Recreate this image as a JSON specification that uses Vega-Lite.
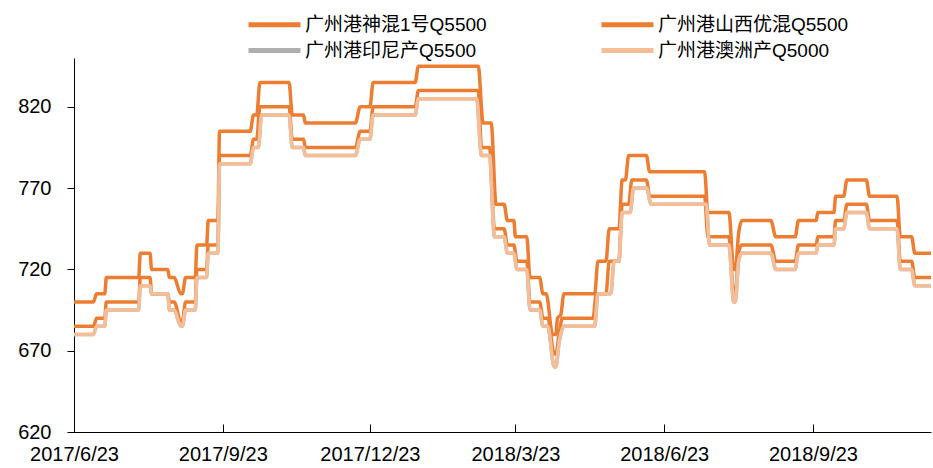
{
  "$schema": "https://vega.github.io/schema/vega-lite/v6.json",
  "width": 857,
  "height": 374,
  "autosize": {"type": "none"},
  "padding": {"left": 74, "top": 58, "right": 2, "bottom": 36},
  "background": "white",
  "config": {"view": {"stroke": null}, "axis": {"grid": false}},
  "data": {"values": [
    {"d":"2017/6/23","s":"广州港神混1号Q5500","v":685},{"d":"2017/7/5","s":"广州港神混1号Q5500","v":685},{"d":"2017/7/7","s":"广州港神混1号Q5500","v":690},{"d":"2017/7/12","s":"广州港神混1号Q5500","v":690},{"d":"2017/7/13","s":"广州港神混1号Q5500","v":700},{"d":"2017/8/2","s":"广州港神混1号Q5500","v":700},{"d":"2017/8/3","s":"广州港神混1号Q5500","v":715},{"d":"2017/8/9","s":"广州港神混1号Q5500","v":715},{"d":"2017/8/10","s":"广州港神混1号Q5500","v":705},{"d":"2017/8/20","s":"广州港神混1号Q5500","v":705},{"d":"2017/8/21","s":"广州港神混1号Q5500","v":700},{"d":"2017/8/24","s":"广州港神混1号Q5500","v":700},{"d":"2017/8/28","s":"广州港神混1号Q5500","v":688},{"d":"2017/8/29","s":"广州港神混1号Q5500","v":688},{"d":"2017/8/31","s":"广州港神混1号Q5500","v":700},{"d":"2017/9/6","s":"广州港神混1号Q5500","v":700},{"d":"2017/9/7","s":"广州港神混1号Q5500","v":720},{"d":"2017/9/13","s":"广州港神混1号Q5500","v":720},{"d":"2017/9/14","s":"广州港神混1号Q5500","v":735},{"d":"2017/9/20","s":"广州港神混1号Q5500","v":735},{"d":"2017/9/21","s":"广州港神混1号Q5500","v":790},{"d":"2017/10/10","s":"广州港神混1号Q5500","v":790},{"d":"2017/10/12","s":"广州港神混1号Q5500","v":800},{"d":"2017/10/14","s":"广州港神混1号Q5500","v":800},{"d":"2017/10/16","s":"广州港神混1号Q5500","v":820},{"d":"2017/11/3","s":"广州港神混1号Q5500","v":820},{"d":"2017/11/5","s":"广州港神混1号Q5500","v":800},{"d":"2017/11/12","s":"广州港神混1号Q5500","v":800},{"d":"2017/11/13","s":"广州港神混1号Q5500","v":795},{"d":"2017/12/14","s":"广州港神混1号Q5500","v":795},{"d":"2017/12/17","s":"广州港神混1号Q5500","v":805},{"d":"2017/12/23","s":"广州港神混1号Q5500","v":805},{"d":"2017/12/25","s":"广州港神混1号Q5500","v":820},{"d":"2018/1/20","s":"广州港神混1号Q5500","v":820},{"d":"2018/1/22","s":"广州港神混1号Q5500","v":830},{"d":"2018/2/28","s":"广州港神混1号Q5500","v":830},{"d":"2018/3/2","s":"广州港神混1号Q5500","v":795},{"d":"2018/3/7","s":"广州港神混1号Q5500","v":795},{"d":"2018/3/10","s":"广州港神混1号Q5500","v":745},{"d":"2018/3/16","s":"广州港神混1号Q5500","v":745},{"d":"2018/3/18","s":"广州港神混1号Q5500","v":735},{"d":"2018/3/22","s":"广州港神混1号Q5500","v":735},{"d":"2018/3/24","s":"广州港神混1号Q5500","v":725},{"d":"2018/3/30","s":"广州港神混1号Q5500","v":725},{"d":"2018/4/1","s":"广州港神混1号Q5500","v":700},{"d":"2018/4/7","s":"广州港神混1号Q5500","v":700},{"d":"2018/4/9","s":"广州港神混1号Q5500","v":690},{"d":"2018/4/12","s":"广州港神混1号Q5500","v":690},{"d":"2018/4/16","s":"广州港神混1号Q5500","v":668},{"d":"2018/4/17","s":"广州港神混1号Q5500","v":668},{"d":"2018/4/19","s":"广州港神混1号Q5500","v":680},{"d":"2018/4/21","s":"广州港神混1号Q5500","v":690},{"d":"2018/5/10","s":"广州港神混1号Q5500","v":690},{"d":"2018/5/12","s":"广州港神混1号Q5500","v":705},{"d":"2018/5/18","s":"广州港神混1号Q5500","v":705},{"d":"2018/5/20","s":"广州港神混1号Q5500","v":725},{"d":"2018/5/26","s":"广州港神混1号Q5500","v":725},{"d":"2018/5/28","s":"广州港神混1号Q5500","v":760},{"d":"2018/6/1","s":"广州港神混1号Q5500","v":760},{"d":"2018/6/3","s":"广州港神混1号Q5500","v":775},{"d":"2018/6/12","s":"广州港神混1号Q5500","v":775},{"d":"2018/6/14","s":"广州港神混1号Q5500","v":765},{"d":"2018/7/18","s":"广州港神混1号Q5500","v":765},{"d":"2018/7/20","s":"广州港神混1号Q5500","v":740},{"d":"2018/8/2","s":"广州港神混1号Q5500","v":740},{"d":"2018/8/5","s":"广州港神混1号Q5500","v":705},{"d":"2018/8/6","s":"广州港神混1号Q5500","v":705},{"d":"2018/8/8","s":"广州港神混1号Q5500","v":730},{"d":"2018/8/10","s":"广州港神混1号Q5500","v":735},{"d":"2018/8/28","s":"广州港神混1号Q5500","v":735},{"d":"2018/8/31","s":"广州港神混1号Q5500","v":725},{"d":"2018/9/12","s":"广州港神混1号Q5500","v":725},{"d":"2018/9/14","s":"广州港神混1号Q5500","v":735},{"d":"2018/9/25","s":"广州港神混1号Q5500","v":735},{"d":"2018/9/26","s":"广州港神混1号Q5500","v":740},{"d":"2018/10/6","s":"广州港神混1号Q5500","v":740},{"d":"2018/10/7","s":"广州港神混1号Q5500","v":750},{"d":"2018/10/12","s":"广州港神混1号Q5500","v":750},{"d":"2018/10/14","s":"广州港神混1号Q5500","v":760},{"d":"2018/10/26","s":"广州港神混1号Q5500","v":760},{"d":"2018/10/28","s":"广州港神混1号Q5500","v":750},{"d":"2018/11/14","s":"广州港神混1号Q5500","v":750},{"d":"2018/11/16","s":"广州港神混1号Q5500","v":725},{"d":"2018/11/23","s":"广州港神混1号Q5500","v":725},{"d":"2018/11/25","s":"广州港神混1号Q5500","v":715},{"d":"2018/12/5","s":"广州港神混1号Q5500","v":715},

    {"d":"2017/6/23","s":"广州港山西优混Q5500","v":700},{"d":"2017/7/5","s":"广州港山西优混Q5500","v":700},{"d":"2017/7/7","s":"广州港山西优混Q5500","v":705},{"d":"2017/7/12","s":"广州港山西优混Q5500","v":705},{"d":"2017/7/13","s":"广州港山西优混Q5500","v":715},{"d":"2017/8/2","s":"广州港山西优混Q5500","v":715},{"d":"2017/8/3","s":"广州港山西优混Q5500","v":730},{"d":"2017/8/9","s":"广州港山西优混Q5500","v":730},{"d":"2017/8/10","s":"广州港山西优混Q5500","v":720},{"d":"2017/8/20","s":"广州港山西优混Q5500","v":720},{"d":"2017/8/21","s":"广州港山西优混Q5500","v":715},{"d":"2017/8/24","s":"广州港山西优混Q5500","v":715},{"d":"2017/8/28","s":"广州港山西优混Q5500","v":705},{"d":"2017/8/29","s":"广州港山西优混Q5500","v":705},{"d":"2017/8/31","s":"广州港山西优混Q5500","v":715},{"d":"2017/9/6","s":"广州港山西优混Q5500","v":715},{"d":"2017/9/7","s":"广州港山西优混Q5500","v":735},{"d":"2017/9/13","s":"广州港山西优混Q5500","v":735},{"d":"2017/9/14","s":"广州港山西优混Q5500","v":750},{"d":"2017/9/20","s":"广州港山西优混Q5500","v":750},{"d":"2017/9/21","s":"广州港山西优混Q5500","v":805},{"d":"2017/10/10","s":"广州港山西优混Q5500","v":805},{"d":"2017/10/12","s":"广州港山西优混Q5500","v":815},{"d":"2017/10/14","s":"广州港山西优混Q5500","v":815},{"d":"2017/10/16","s":"广州港山西优混Q5500","v":835},{"d":"2017/11/3","s":"广州港山西优混Q5500","v":835},{"d":"2017/11/5","s":"广州港山西优混Q5500","v":815},{"d":"2017/11/12","s":"广州港山西优混Q5500","v":815},{"d":"2017/11/13","s":"广州港山西优混Q5500","v":810},{"d":"2017/12/14","s":"广州港山西优混Q5500","v":810},{"d":"2017/12/17","s":"广州港山西优混Q5500","v":820},{"d":"2017/12/23","s":"广州港山西优混Q5500","v":820},{"d":"2017/12/25","s":"广州港山西优混Q5500","v":835},{"d":"2018/1/20","s":"广州港山西优混Q5500","v":835},{"d":"2018/1/22","s":"广州港山西优混Q5500","v":845},{"d":"2018/2/28","s":"广州港山西优混Q5500","v":845},{"d":"2018/3/3","s":"广州港山西优混Q5500","v":810},{"d":"2018/3/8","s":"广州港山西优混Q5500","v":810},{"d":"2018/3/11","s":"广州港山西优混Q5500","v":760},{"d":"2018/3/16","s":"广州港山西优混Q5500","v":760},{"d":"2018/3/18","s":"广州港山西优混Q5500","v":750},{"d":"2018/3/22","s":"广州港山西优混Q5500","v":750},{"d":"2018/3/23","s":"广州港山西优混Q5500","v":740},{"d":"2018/3/30","s":"广州港山西优混Q5500","v":740},{"d":"2018/4/1","s":"广州港山西优混Q5500","v":715},{"d":"2018/4/7","s":"广州港山西优混Q5500","v":715},{"d":"2018/4/9","s":"广州港山西优混Q5500","v":705},{"d":"2018/4/11","s":"广州港山西优混Q5500","v":705},{"d":"2018/4/15","s":"广州港山西优混Q5500","v":680},{"d":"2018/4/17","s":"广州港山西优混Q5500","v":680},{"d":"2018/4/18","s":"广州港山西优混Q5500","v":690},{"d":"2018/4/20","s":"广州港山西优混Q5500","v":692},{"d":"2018/4/22","s":"广州港山西优混Q5500","v":705},{"d":"2018/5/11","s":"广州港山西优混Q5500","v":705},{"d":"2018/5/13","s":"广州港山西优混Q5500","v":725},{"d":"2018/5/18","s":"广州港山西优混Q5500","v":725},{"d":"2018/5/20","s":"广州港山西优混Q5500","v":745},{"d":"2018/5/26","s":"广州港山西优混Q5500","v":745},{"d":"2018/5/28","s":"广州港山西优混Q5500","v":775},{"d":"2018/5/30","s":"广州港山西优混Q5500","v":775},{"d":"2018/6/1","s":"广州港山西优混Q5500","v":790},{"d":"2018/6/12","s":"广州港山西优混Q5500","v":790},{"d":"2018/6/14","s":"广州港山西优混Q5500","v":780},{"d":"2018/7/18","s":"广州港山西优混Q5500","v":780},{"d":"2018/7/20","s":"广州港山西优混Q5500","v":755},{"d":"2018/8/2","s":"广州港山西优混Q5500","v":755},{"d":"2018/8/5","s":"广州港山西优混Q5500","v":720},{"d":"2018/8/6","s":"广州港山西优混Q5500","v":720},{"d":"2018/8/8","s":"广州港山西优混Q5500","v":742},{"d":"2018/8/10","s":"广州港山西优混Q5500","v":750},{"d":"2018/8/28","s":"广州港山西优混Q5500","v":750},{"d":"2018/8/31","s":"广州港山西优混Q5500","v":740},{"d":"2018/9/12","s":"广州港山西优混Q5500","v":740},{"d":"2018/9/14","s":"广州港山西优混Q5500","v":750},{"d":"2018/9/25","s":"广州港山西优混Q5500","v":750},{"d":"2018/9/26","s":"广州港山西优混Q5500","v":755},{"d":"2018/10/6","s":"广州港山西优混Q5500","v":755},{"d":"2018/10/7","s":"广州港山西优混Q5500","v":765},{"d":"2018/10/12","s":"广州港山西优混Q5500","v":765},{"d":"2018/10/14","s":"广州港山西优混Q5500","v":775},{"d":"2018/10/26","s":"广州港山西优混Q5500","v":775},{"d":"2018/10/28","s":"广州港山西优混Q5500","v":765},{"d":"2018/11/14","s":"广州港山西优混Q5500","v":765},{"d":"2018/11/16","s":"广州港山西优混Q5500","v":740},{"d":"2018/11/23","s":"广州港山西优混Q5500","v":740},{"d":"2018/11/25","s":"广州港山西优混Q5500","v":730},{"d":"2018/12/5","s":"广州港山西优混Q5500","v":730},

    {"d":"2017/6/23","s":"广州港印尼产Q5500","v":680},{"d":"2017/7/5","s":"广州港印尼产Q5500","v":680},{"d":"2017/7/7","s":"广州港印尼产Q5500","v":685},{"d":"2017/7/12","s":"广州港印尼产Q5500","v":685},{"d":"2017/7/13","s":"广州港印尼产Q5500","v":695},{"d":"2017/8/2","s":"广州港印尼产Q5500","v":695},{"d":"2017/8/3","s":"广州港印尼产Q5500","v":710},{"d":"2017/8/9","s":"广州港印尼产Q5500","v":710},{"d":"2017/8/10","s":"广州港印尼产Q5500","v":705},{"d":"2017/8/20","s":"广州港印尼产Q5500","v":705},{"d":"2017/8/21","s":"广州港印尼产Q5500","v":695},{"d":"2017/8/24","s":"广州港印尼产Q5500","v":695},{"d":"2017/8/28","s":"广州港印尼产Q5500","v":685},{"d":"2017/8/29","s":"广州港印尼产Q5500","v":685},{"d":"2017/8/31","s":"广州港印尼产Q5500","v":695},{"d":"2017/9/6","s":"广州港印尼产Q5500","v":695},{"d":"2017/9/7","s":"广州港印尼产Q5500","v":715},{"d":"2017/9/13","s":"广州港印尼产Q5500","v":715},{"d":"2017/9/14","s":"广州港印尼产Q5500","v":730},{"d":"2017/9/20","s":"广州港印尼产Q5500","v":730},{"d":"2017/9/21","s":"广州港印尼产Q5500","v":785},{"d":"2017/10/10","s":"广州港印尼产Q5500","v":785},{"d":"2017/10/12","s":"广州港印尼产Q5500","v":795},{"d":"2017/10/15","s":"广州港印尼产Q5500","v":795},{"d":"2017/10/17","s":"广州港印尼产Q5500","v":815},{"d":"2017/11/3","s":"广州港印尼产Q5500","v":815},{"d":"2017/11/5","s":"广州港印尼产Q5500","v":795},{"d":"2017/11/12","s":"广州港印尼产Q5500","v":795},{"d":"2017/11/13","s":"广州港印尼产Q5500","v":790},{"d":"2017/12/14","s":"广州港印尼产Q5500","v":790},{"d":"2017/12/17","s":"广州港印尼产Q5500","v":800},{"d":"2017/12/23","s":"广州港印尼产Q5500","v":800},{"d":"2017/12/25","s":"广州港印尼产Q5500","v":815},{"d":"2018/1/20","s":"广州港印尼产Q5500","v":815},{"d":"2018/1/22","s":"广州港印尼产Q5500","v":825},{"d":"2018/2/27","s":"广州港印尼产Q5500","v":825},{"d":"2018/3/2","s":"广州港印尼产Q5500","v":790},{"d":"2018/3/7","s":"广州港印尼产Q5500","v":790},{"d":"2018/3/10","s":"广州港印尼产Q5500","v":740},{"d":"2018/3/16","s":"广州港印尼产Q5500","v":740},{"d":"2018/3/18","s":"广州港印尼产Q5500","v":730},{"d":"2018/3/22","s":"广州港印尼产Q5500","v":730},{"d":"2018/3/24","s":"广州港印尼产Q5500","v":720},{"d":"2018/3/30","s":"广州港印尼产Q5500","v":720},{"d":"2018/4/1","s":"广州港印尼产Q5500","v":695},{"d":"2018/4/7","s":"广州港印尼产Q5500","v":695},{"d":"2018/4/9","s":"广州港印尼产Q5500","v":685},{"d":"2018/4/12","s":"广州港印尼产Q5500","v":685},{"d":"2018/4/16","s":"广州港印尼产Q5500","v":660},{"d":"2018/4/17","s":"广州港印尼产Q5500","v":660},{"d":"2018/4/19","s":"广州港印尼产Q5500","v":675},{"d":"2018/4/22","s":"广州港印尼产Q5500","v":685},{"d":"2018/5/11","s":"广州港印尼产Q5500","v":685},{"d":"2018/5/13","s":"广州港印尼产Q5500","v":705},{"d":"2018/5/21","s":"广州港印尼产Q5500","v":705},{"d":"2018/5/23","s":"广州港印尼产Q5500","v":725},{"d":"2018/5/26","s":"广州港印尼产Q5500","v":725},{"d":"2018/5/28","s":"广州港印尼产Q5500","v":755},{"d":"2018/6/2","s":"广州港印尼产Q5500","v":755},{"d":"2018/6/4","s":"广州港印尼产Q5500","v":770},{"d":"2018/6/12","s":"广州港印尼产Q5500","v":770},{"d":"2018/6/15","s":"广州港印尼产Q5500","v":760},{"d":"2018/7/19","s":"广州港印尼产Q5500","v":760},{"d":"2018/7/21","s":"广州港印尼产Q5500","v":735},{"d":"2018/8/2","s":"广州港印尼产Q5500","v":735},{"d":"2018/8/5","s":"广州港印尼产Q5500","v":700},{"d":"2018/8/6","s":"广州港印尼产Q5500","v":700},{"d":"2018/8/8","s":"广州港印尼产Q5500","v":725},{"d":"2018/8/10","s":"广州港印尼产Q5500","v":730},{"d":"2018/8/28","s":"广州港印尼产Q5500","v":730},{"d":"2018/8/31","s":"广州港印尼产Q5500","v":720},{"d":"2018/9/12","s":"广州港印尼产Q5500","v":720},{"d":"2018/9/14","s":"广州港印尼产Q5500","v":730},{"d":"2018/9/25","s":"广州港印尼产Q5500","v":730},{"d":"2018/9/26","s":"广州港印尼产Q5500","v":735},{"d":"2018/10/6","s":"广州港印尼产Q5500","v":735},{"d":"2018/10/7","s":"广州港印尼产Q5500","v":745},{"d":"2018/10/12","s":"广州港印尼产Q5500","v":745},{"d":"2018/10/14","s":"广州港印尼产Q5500","v":755},{"d":"2018/10/26","s":"广州港印尼产Q5500","v":755},{"d":"2018/10/28","s":"广州港印尼产Q5500","v":745},{"d":"2018/11/14","s":"广州港印尼产Q5500","v":745},{"d":"2018/11/16","s":"广州港印尼产Q5500","v":720},{"d":"2018/11/23","s":"广州港印尼产Q5500","v":720},{"d":"2018/11/25","s":"广州港印尼产Q5500","v":710},{"d":"2018/12/5","s":"广州港印尼产Q5500","v":710},

    {"d":"2017/6/23","s":"广州港澳洲产Q5000","v":680},{"d":"2017/7/5","s":"广州港澳洲产Q5000","v":680},{"d":"2017/7/7","s":"广州港澳洲产Q5000","v":685},{"d":"2017/7/12","s":"广州港澳洲产Q5000","v":685},{"d":"2017/7/13","s":"广州港澳洲产Q5000","v":695},{"d":"2017/8/2","s":"广州港澳洲产Q5000","v":695},{"d":"2017/8/3","s":"广州港澳洲产Q5000","v":710},{"d":"2017/8/9","s":"广州港澳洲产Q5000","v":710},{"d":"2017/8/10","s":"广州港澳洲产Q5000","v":705},{"d":"2017/8/20","s":"广州港澳洲产Q5000","v":705},{"d":"2017/8/21","s":"广州港澳洲产Q5000","v":695},{"d":"2017/8/24","s":"广州港澳洲产Q5000","v":695},{"d":"2017/8/28","s":"广州港澳洲产Q5000","v":685},{"d":"2017/8/29","s":"广州港澳洲产Q5000","v":685},{"d":"2017/8/31","s":"广州港澳洲产Q5000","v":695},{"d":"2017/9/6","s":"广州港澳洲产Q5000","v":695},{"d":"2017/9/7","s":"广州港澳洲产Q5000","v":715},{"d":"2017/9/13","s":"广州港澳洲产Q5000","v":715},{"d":"2017/9/14","s":"广州港澳洲产Q5000","v":730},{"d":"2017/9/20","s":"广州港澳洲产Q5000","v":730},{"d":"2017/9/21","s":"广州港澳洲产Q5000","v":785},{"d":"2017/10/10","s":"广州港澳洲产Q5000","v":785},{"d":"2017/10/12","s":"广州港澳洲产Q5000","v":795},{"d":"2017/10/15","s":"广州港澳洲产Q5000","v":795},{"d":"2017/10/17","s":"广州港澳洲产Q5000","v":815},{"d":"2017/11/3","s":"广州港澳洲产Q5000","v":815},{"d":"2017/11/5","s":"广州港澳洲产Q5000","v":795},{"d":"2017/11/12","s":"广州港澳洲产Q5000","v":795},{"d":"2017/11/13","s":"广州港澳洲产Q5000","v":790},{"d":"2017/12/14","s":"广州港澳洲产Q5000","v":790},{"d":"2017/12/17","s":"广州港澳洲产Q5000","v":800},{"d":"2017/12/23","s":"广州港澳洲产Q5000","v":800},{"d":"2017/12/25","s":"广州港澳洲产Q5000","v":815},{"d":"2018/1/20","s":"广州港澳洲产Q5000","v":815},{"d":"2018/1/22","s":"广州港澳洲产Q5000","v":825},{"d":"2018/2/27","s":"广州港澳洲产Q5000","v":825},{"d":"2018/3/2","s":"广州港澳洲产Q5000","v":790},{"d":"2018/3/7","s":"广州港澳洲产Q5000","v":790},{"d":"2018/3/10","s":"广州港澳洲产Q5000","v":740},{"d":"2018/3/16","s":"广州港澳洲产Q5000","v":740},{"d":"2018/3/18","s":"广州港澳洲产Q5000","v":730},{"d":"2018/3/22","s":"广州港澳洲产Q5000","v":730},{"d":"2018/3/24","s":"广州港澳洲产Q5000","v":720},{"d":"2018/3/30","s":"广州港澳洲产Q5000","v":720},{"d":"2018/4/1","s":"广州港澳洲产Q5000","v":695},{"d":"2018/4/7","s":"广州港澳洲产Q5000","v":695},{"d":"2018/4/9","s":"广州港澳洲产Q5000","v":685},{"d":"2018/4/12","s":"广州港澳洲产Q5000","v":685},{"d":"2018/4/16","s":"广州港澳洲产Q5000","v":660},{"d":"2018/4/17","s":"广州港澳洲产Q5000","v":660},{"d":"2018/4/19","s":"广州港澳洲产Q5000","v":675},{"d":"2018/4/22","s":"广州港澳洲产Q5000","v":685},{"d":"2018/5/11","s":"广州港澳洲产Q5000","v":685},{"d":"2018/5/13","s":"广州港澳洲产Q5000","v":705},{"d":"2018/5/21","s":"广州港澳洲产Q5000","v":705},{"d":"2018/5/23","s":"广州港澳洲产Q5000","v":725},{"d":"2018/5/26","s":"广州港澳洲产Q5000","v":725},{"d":"2018/5/28","s":"广州港澳洲产Q5000","v":755},{"d":"2018/6/2","s":"广州港澳洲产Q5000","v":755},{"d":"2018/6/4","s":"广州港澳洲产Q5000","v":770},{"d":"2018/6/12","s":"广州港澳洲产Q5000","v":770},{"d":"2018/6/15","s":"广州港澳洲产Q5000","v":760},{"d":"2018/7/19","s":"广州港澳洲产Q5000","v":760},{"d":"2018/7/21","s":"广州港澳洲产Q5000","v":735},{"d":"2018/8/2","s":"广州港澳洲产Q5000","v":735},{"d":"2018/8/5","s":"广州港澳洲产Q5000","v":700},{"d":"2018/8/6","s":"广州港澳洲产Q5000","v":700},{"d":"2018/8/8","s":"广州港澳洲产Q5000","v":725},{"d":"2018/8/10","s":"广州港澳洲产Q5000","v":730},{"d":"2018/8/28","s":"广州港澳洲产Q5000","v":730},{"d":"2018/8/31","s":"广州港澳洲产Q5000","v":720},{"d":"2018/9/12","s":"广州港澳洲产Q5000","v":720},{"d":"2018/9/14","s":"广州港澳洲产Q5000","v":730},{"d":"2018/9/25","s":"广州港澳洲产Q5000","v":730},{"d":"2018/9/26","s":"广州港澳洲产Q5000","v":735},{"d":"2018/10/6","s":"广州港澳洲产Q5000","v":735},{"d":"2018/10/7","s":"广州港澳洲产Q5000","v":745},{"d":"2018/10/12","s":"广州港澳洲产Q5000","v":745},{"d":"2018/10/14","s":"广州港澳洲产Q5000","v":755},{"d":"2018/10/26","s":"广州港澳洲产Q5000","v":755},{"d":"2018/10/28","s":"广州港澳洲产Q5000","v":745},{"d":"2018/11/14","s":"广州港澳洲产Q5000","v":745},{"d":"2018/11/16","s":"广州港澳洲产Q5000","v":720},{"d":"2018/11/23","s":"广州港澳洲产Q5000","v":720},{"d":"2018/11/25","s":"广州港澳洲产Q5000","v":710},{"d":"2018/12/5","s":"广州港澳洲产Q5000","v":710}
  ]},
  "mark": {"type": "line", "strokeWidth": 3.5, "interpolate": "monotone"},
  "encoding": {
    "x": {
      "field": "d", "type": "temporal",
      "scale": {"domain": [{"year": 2017, "month": 6, "date": 23}, {"year": 2018, "month": 12, "date": 5}]},
      "axis": {
        "title": null,
        "values": [{"year": 2017, "month": 6, "date": 23}, {"year": 2017, "month": 9, "date": 23}, {"year": 2017, "month": 12, "date": 23}, {"year": 2018, "month": 3, "date": 23}, {"year": 2018, "month": 6, "date": 23}, {"year": 2018, "month": 9, "date": 23}],
        "format": "%Y/%-m/%-d",
        "labelFont": "Liberation Sans", "labelFontSize": 20, "labelColor": "#000",
        "labelFlush": false, "labelOverlap": false,
        "domainColor": "#000", "domainWidth": 1.2,
        "tickColor": "#000", "tickSize": -8, "tickWidth": 1,
        "labelPadding": 20
      }
    },
    "y": {
      "field": "v", "type": "quantitative",
      "scale": {"domain": [620, 850], "zero": false, "nice": false},
      "axis": {
        "title": null, "values": [620, 670, 720, 770, 820],
        "labelFont": "Liberation Sans", "labelFontSize": 20, "labelColor": "#000",
        "domainColor": "#000", "domainWidth": 1,
        "tickColor": "#000", "tickSize": 7, "labelPadding": 16
      }
    },
    "color": {
      "field": "s", "type": "nominal",
      "scale": {
        "domain": ["广州港神混1号Q5500", "广州港山西优混Q5500", "广州港印尼产Q5500", "广州港澳洲产Q5000"],
        "range": ["#ED7D31", "#ED7D31", "#AFAFAF", "#F5BE96"]
      },
      "legend": {
        "title": null, "orient": "none", "legendX": 185, "legendY": -49,
        "columns": 2, "direction": "horizontal", "padding": 0,
        "symbolType": "M-2,0H2", "symbolSize": 676, "symbolStrokeWidth": 5,
        "labelFont": "Liberation Sans, Noto Sans CJK SC", "labelFontSize": 19, "labelColor": "#000",
        "labelOffset": 15, "columnPadding": 104, "rowPadding": -2, "labelLimit": 300
      }
    }
  }
}
